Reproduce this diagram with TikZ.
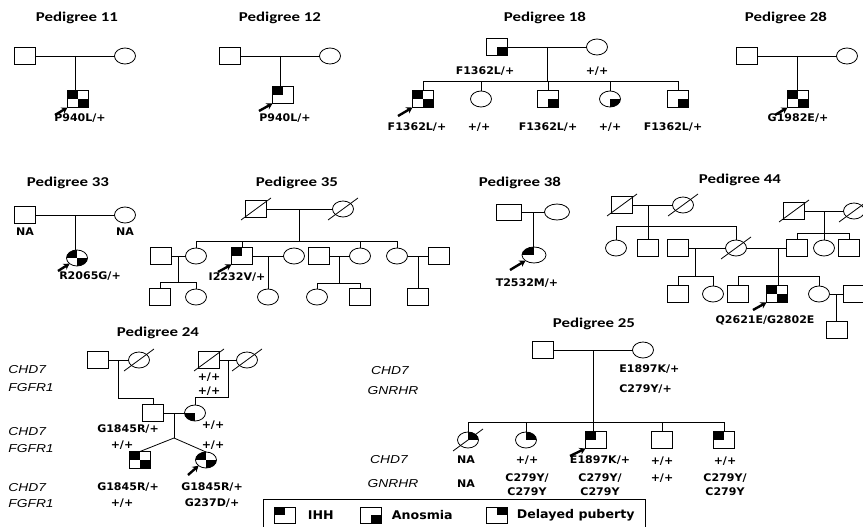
\documentclass[tikz,border=0pt]{standalone}
\usepackage{fontspec}
\usetikzlibrary{shapes.geometric, arrows.meta, positioning}
\newfontfamily\titlef[FakeStretch=1.25]{Carlito}
\newfontfamily\genof[FakeStretch=1.05]{DejaVu Sans}
\newfontfamily\genef[FakeStretch=1.2]{Liberation Sans}

\tikzset{
  male/.style={draw, rectangle, minimum width=21pt, minimum height=17pt, inner sep=0pt, outer sep=0pt},
  female/.style={draw, ellipse, minimum width=21pt, minimum height=16pt, inner sep=0pt, outer sep=0pt},
  ihh/.style={path picture={\fill (path picture bounding box.center) rectangle (path picture bounding box.north west);}},
  anosmia/.style={path picture={\fill (path picture bounding box.center) rectangle (path picture bounding box.south east);}},
  delayed/.style={path picture={\fill (path picture bounding box.center) rectangle (path picture bounding box.north east);}},
  quarterbl/.style={path picture={\fill (path picture bounding box.center) rectangle (path picture bounding box.south west);}},
  ihhanosmia/.style={path picture={\fill (path picture bounding box.center) rectangle (path picture bounding box.north west);
      \fill (path picture bounding box.center) rectangle (path picture bounding box.south east);}},
  title/.style={font=\titlef\bfseries\fontsize{13.5}{16}\selectfont, inner sep=0pt},
  geno/.style={font=\genof\bfseries\fontsize{10.5}{12}\selectfont, inner sep=0pt},
  gene/.style={font=\genef\itshape\fontsize{11.5}{13}\selectfont, inner sep=0pt, anchor=west},
  legendtext/.style={font=\genof\bfseries\fontsize{12}{14}\selectfont, inner sep=0pt},
  proband/.style={-{Stealth[length=6pt,width=7pt]}, line width=2.4pt},
}
\newcommand{\deceased}[1]{\draw (#1.center) +(-15,11) -- +(15,-11);}

\begin{document}
\begin{tikzpicture}[x=1pt, y=-1pt, line width=0.8pt]
\useasboundingbox (0,0) rectangle (863,527);

% Pedigree 11
\node[title] (t11) at (77,18) {Pedigree 11};
\node[male] (f11) at (25,56) {};
\node[female] (m11) at (125,56) {};
\node[male, ihhanosmia] (p11) at (78,99) {};
\node[geno] (g11) at (80,118) {P940L/+};
\coordinate (a11) at (55,115);
\draw (f11) -- (m11) coordinate[midway] (u11);
\draw (u11) -- (u11 |- p11.north);
\draw[proband] (a11) -- (p11.south west);

% Pedigree 12
\node[title] (t12) at (280,18) {Pedigree 12};
\node[male] (f12) at (230,56) {};
\node[female] (m12) at (330,56) {};
\node[male, ihh] (p12) at (283,95) {};
\node[geno] (g12) at (285,118) {P940L/+};
\coordinate (a12) at (259,111);
\draw (f12) -- (m12) coordinate[midway] (u12);
\draw (u12) -- (u12 |- p12.north);
\draw[proband] (a12) -- (p12.south west);

% Pedigree 18
\node[title] (t18) at (545,18) {Pedigree 18};
\node[male, anosmia] (f18) at (497,47) {};
\node[female] (m18) at (597,47) {};
\node[geno] at (485,71) {F1362L/+};
\node[geno] at (597,71) {+/+};
\node[male, ihhanosmia] (p18) at (423,99) {};
\node[female] (k18b) at (481,99) {};
\node[male, anosmia] (k18c) at (548,99) {};
\node[female, anosmia] (k18d) at (610,99) {};
\node[male, anosmia] (k18e) at (678,99) {};
\node[geno] at (417,127) {F1362L/+};
\node[geno] at (479,127) {+/+};
\node[geno] at (548,127) {F1362L/+};
\node[geno] at (610,127) {+/+};
\node[geno] at (673,127) {F1362L/+};
\coordinate (a18) at (398,116);
\draw (f18) -- (m18) coordinate[midway] (u18);
\draw (p18.north) -- ++(0,-9) coordinate (s18) -| (k18e.north);
\foreach \k in {k18b, k18c, k18d} \draw (\k.north) -- (\k.north |- s18);
\draw (u18) -- (u18 |- s18);
\draw[proband] (a18) -- (p18.south west);

% Pedigree 28
\node[title] (t28) at (786,18) {Pedigree 28};
\node[male] (f28) at (747,56) {};
\node[female] (m28) at (847,56) {};
\node[male, ihhanosmia] (p28) at (798,99) {};
\node[geno] (g28) at (798,118) {G1982E/+};
\coordinate (a28) at (775,115);
\draw (f28) -- (m28) coordinate[midway] (u28);
\draw (u28) -- (u28 |- p28.north);
\draw[proband] (a28) -- (p28.south west);

% Pedigree 33
\node[title] (t33) at (68,183) {Pedigree 33};
\node[male] (f33) at (25,215) {};
\node[female] (m33) at (125,215) {};
\node[geno] at (25,232) {NA};
\node[geno] at (125,232) {NA};
\node[female, ihhanosmia] (p33) at (77,258) {};
\node[geno] (g33) at (90,276) {R2065G/+};
\coordinate (a33) at (58,271);
\draw (f33) -- (m33) coordinate[midway] (u33);
\draw (u33) -- (u33 |- p33.north);
\draw[proband] (a33) -- (p33.south west);

% Pedigree 35
\node[title] (t35) at (297,183) {Pedigree 35};
\node[male] (f35) at (256,209) {}; \deceased{f35}
\node[female] (m35) at (343,209) {}; \deceased{m35}
\node[male] (s35a) at (161,256) {};
\node[female] (k35b) at (196,256) {};
\node[male, ihh] (p35) at (242,256) {};
\node[female] (s35c) at (294,256) {};
\node[male] (s35d) at (319,256) {};
\node[female] (k35e) at (360,256) {};
\node[female] (k35f) at (397,256) {};
\node[male] (s35g) at (439,256) {};
\node[male] (k35h) at (160,297) {};
\node[female] (k35i) at (196,297) {};
\node[female] (k35j) at (268,297) {};
\node[female] (k35k) at (317,297) {};
\node[male] (k35l) at (360,297) {};
\node[male] (k35m) at (418,297) {};
\node[geno] (g35) at (237,277) {I2232V/+};
\coordinate (a35) at (218,272);
\draw (f35) -- (m35) coordinate[midway] (u35);
\draw (k35b.north) -- ++(0,-7) coordinate (s35) -| (k35f.north);
\foreach \k in {p35, k35e} \draw (\k.north) -- (\k.north |- s35);
\draw (u35) -- (u35 |- s35);
\draw (s35a) -- (k35b) coordinate[midway] (u35a);
\draw (k35h.north) -- ++(0,-6) coordinate (v35a) -| (k35i.north);
\draw (u35a) -- (u35a |- v35a);
\draw (p35) -- (s35c) coordinate[midway] (u35b);
\draw (u35b) -- (u35b |- k35j.north);
\draw (s35d) -- (k35e) coordinate[midway] (u35c);
\draw (k35k.north) -- ++(0,-6) coordinate (v35c) -| (k35l.north);
\draw (u35c) -- (u35c |- v35c);
\draw (k35f) -- (s35g) coordinate[midway] (u35d);
\draw (u35d) -- (u35d |- k35m.north);
\draw[proband] (a35) -- (p35.south west);

% Pedigree 38
\node[title] (t38) at (520,183) {Pedigree 38};
\node[male, minimum width=25pt, minimum height=16pt] (f38) at (509,212) {};
\node[female, minimum width=25pt] (m38) at (557,212) {};
\node[female, minimum width=24pt, ihh] (p38) at (534,255) {};
\node[geno] (g38) at (527,283) {T2532M/+};
\coordinate (a38) at (510,270);
\draw (f38) -- (m38) coordinate[midway] (u38);
\draw (u38) -- (u38 |- p38.north);
\draw[proband] (a38) -- (p38.south west);

% Pedigree 44
\node[title] (t44) at (740,180) {Pedigree 44};
\node[male] (d44a) at (622,205) {}; \deceased{d44a}
\node[female] (d44b) at (683,205) {}; \deceased{d44b}
\node[male] (d44h) at (794,211) {}; \deceased{d44h}
\node[female] (d44i) at (854,211) {}; \deceased{d44i}
\node[female] (k44a) at (616,248) {};
\node[male] (k44b) at (648,248) {};
\node[male] (s44c) at (678,248) {};
\node[female] (d44d) at (736,248) {}; \deceased{d44d}
\node[male] (k44e) at (797,248) {};
\node[female] (k44f) at (824,248) {};
\node[male] (k44g) at (849,248) {};
\node[male] (k44h) at (678,294) {};
\node[female] (k44i) at (713,294) {};
\node[male] (k44j) at (738,294) {};
\node[male, ihhanosmia] (p44) at (777,294) {};
\node[female] (k44k) at (819,294) {};
\node[male] (s44l) at (854,294) {};
\node[male] (k44m) at (837,330) {};
\node[geno] (g44) at (765,320) {Q2621E/G2802E};
\coordinate (a44) at (753,310);
\draw (d44a) -- (d44b) coordinate[pos=0.4] (u44a);
\draw (k44a.north) -- ++(0,-14) coordinate (s44a) -| (d44d.north);
\draw (k44b.north) -- (k44b.north |- s44a);
\draw (u44a) -- (u44a |- s44a);
\draw (d44h) -- (d44i) coordinate[midway] (u44b);
\draw (k44e.north) -- ++(0,-6.5) coordinate (s44b) -| (k44g.north);
\draw (u44b) -- (u44b |- k44f.north);
\draw (s44c) -- (d44d) coordinate[pos=0.18] (u44c);
\draw (k44h.north) -- ++(0,-9.5) coordinate (v44c) -| (k44i.north);
\draw (u44c) -- (u44c |- v44c);
\draw (d44d) -- (k44e) coordinate[pos=0.79] (u44d);
\draw (k44j.north) -- ++(0,-9.5) coordinate (v44d) -| (k44k.north);
\draw (u44d) -- (u44d |- p44.north);
\draw (k44k) -- (s44l) coordinate[midway] (u44e);
\draw (u44e) -- (u44e |- k44m.north);
\draw[proband] (a44) -- (p44.south west);

% Pedigree 24
\node[title] (t24) at (158,333) {Pedigree 24};
\node[male] (f24a) at (98,360) {};
\node[female] (d24b) at (139,360) {}; \deceased{d24b}
\node[male] (d24c) at (209,360) {}; \deceased{d24c}
\node[female] (d24d) at (247,360) {}; \deceased{d24d}
\node[male] (f24e) at (153,413) {};
\node[female, quarterbl] (m24f) at (195,413) {};
\node[male, ihhanosmia] (k24a) at (140,460) {};
\node[female, ihhanosmia] (k24b) at (206,460) {};
\node[gene] at (8,370) {CHD7};
\node[gene] at (8,388) {FGFR1};
\node[gene] at (8,432) {CHD7};
\node[gene] at (8,449) {FGFR1};
\node[gene] at (8,488) {CHD7};
\node[gene] at (8,504) {FGFR1};
\node[geno] at (209,377) {+/+};
\node[geno] at (209,391) {+/+};
\node[geno] at (128,429) {G1845R/+};
\node[geno] at (122,445) {+/+};
\node[geno] at (213,425) {+/+};
\node[geno] at (213,445) {+/+};
\node[geno] at (128,487) {G1845R/+};
\node[geno] at (122,503) {+/+};
\node[geno] at (212,487) {G1845R/+};
\node[geno] at (212,503) {G237D/+};
\coordinate (a24) at (188,475);
\draw (f24a) -- (d24b) coordinate[midway] (u24a);
\draw (u24a) |- ([yshift=6pt]f24e.north) -- (f24e.north);
\draw (d24c) -- (d24d) coordinate[midway] (u24b);
\draw (u24b) |- ([yshift=8pt]m24f.north) -- (m24f.north);
\draw (f24e) -- (m24f) coordinate[midway] (u24c);
\draw (u24c) -- ++(0,25) coordinate (v24);
\draw (v24) -- (k24a.north);
\draw (v24) -- (k24b.north);
\draw[proband] (a24) -- (k24b.south west);

% Pedigree 25
\node[title] (t25) at (594,324) {Pedigree 25};
\node[male] (f25) at (543,350) {};
\node[female] (m25) at (643,350) {};
\node[geno, anchor=west] at (619,369) {E1897K/+};
\node[geno, anchor=west] at (619,389) {C279Y/+};
\node[gene, anchor=center] at (390,371) {CHD7};
\node[gene, anchor=center] at (393,391) {GNRHR};
\node[female, delayed] (d25a) at (468,440) {}; \deceased{d25a}
\node[female, delayed] (k25b) at (526,440) {};
\node[male, ihh] (p25) at (596,440) {};
\node[male] (k25d) at (662,440) {};
\node[male, ihh] (k25e) at (724,440) {};
\node[gene, anchor=center] at (389,460) {CHD7};
\node[gene, anchor=center] at (393,484) {GNRHR};
\node[geno] at (466,460) {NA};
\node[geno] at (466,484) {NA};
\node[geno] at (527,460) {+/+};
\node[geno] at (527,478) {C279Y/};
\node[geno] at (527,492) {C279Y};
\node[geno] at (600,460) {E1897K/+};
\node[geno] at (600,478) {C279Y/};
\node[geno] at (600,492) {C279Y};
\node[geno] at (662,461) {+/+};
\node[geno] at (662,478) {+/+};
\node[geno] at (725,461) {+/+};
\node[geno] at (725,478) {C279Y/};
\node[geno] at (725,492) {C279Y};
\coordinate (a25) at (570,456);
\draw (f25) -- (m25) coordinate[midway] (u25);
\draw (d25a.north) -- ++(0,-10) coordinate (s25) -| (k25e.north);
\foreach \k in {k25b, k25d} \draw (\k.north) -- (\k.north |- s25);
\draw (u25) -- (u25 |- p25.north);
\draw[proband] (a25) -- (p25.south west);

% Legend
\node[draw, rectangle, minimum width=382pt, minimum height=36pt, anchor=north west, inner sep=0pt] (key) at (263,499) {};
\node[male, ihh, minimum height=16pt] (l1) at (285,515) {};
\node[legendtext, right=12pt of l1] (l1t) {IHH};
\node[male, anosmia, minimum height=16pt] (l2) at (371,515) {};
\node[legendtext, right=10pt of l2] (l2t) {Anosmia};
\node[male, delayed, minimum height=16pt] (l3) at (497,515) {};
\node[legendtext, right=9pt of l3] (l3t) {Delayed puberty};
\end{tikzpicture}
\end{document}
